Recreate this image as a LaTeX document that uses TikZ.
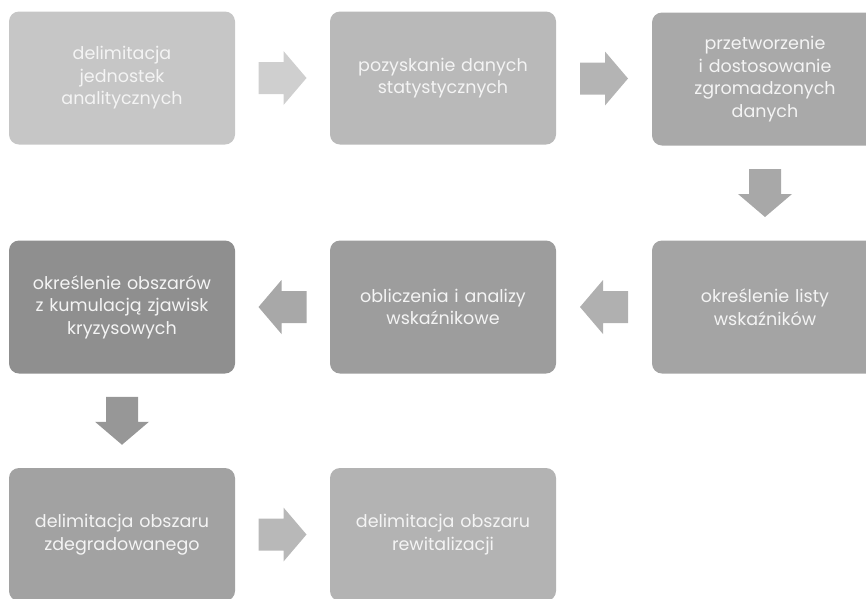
\documentclass[tikz,border=0pt]{standalone}
\usepackage{fontspec}
\setmainfont{Poppins}
\usetikzlibrary{calc}
\definecolor{cb1}{HTML}{C6C6C6}
\definecolor{cb2}{HTML}{B9B9B9}
\definecolor{cb3}{HTML}{A9A9A9}
\definecolor{cb4}{HTML}{8F8F8F}
\definecolor{cb5}{HTML}{9D9D9D}
\definecolor{cb6}{HTML}{A4A4A4}
\definecolor{cb7}{HTML}{A2A2A2}
\definecolor{cb8}{HTML}{B3B3B3}
\definecolor{ca1}{HTML}{CFCFCF}
\definecolor{ca2}{HTML}{B4B4B4}
\definecolor{ca3}{HTML}{A8A8A8}
\definecolor{ca4}{HTML}{B0B0B0}
\definecolor{ca5}{HTML}{A8A8A8}
\definecolor{ca6}{HTML}{979797}
\definecolor{ca7}{HTML}{B8B8B8}
\definecolor{txt}{HTML}{F4F4F4}
\tikzset{
  stepbox/.style={rectangle, rounded corners=10pt, minimum width=226pt, minimum height=133pt,
    text width=222pt, align=center, text=txt, font=\fontsize{17.5}{22.5}\selectfont, inner sep=0pt},
  barrow/.pic={\path[pic actions] (-24pt,16pt) -- (1pt,16pt) -- (1pt,27pt) -- (24pt,0pt) -- (1pt,-27pt) -- (1pt,-16pt) -- (-24pt,-16pt) -- cycle;}
}
\begin{document}
\begin{tikzpicture}[x=1pt,y=-1pt]
\useasboundingbox (0,0) rectangle (866,598);
\node[stepbox, fill=cb1] (b1) at (122,78) {delimitacja\\jednostek\\analitycznych};
\node[stepbox, fill=cb2] (b2) at (443,78) {pozyskanie danych\\statystycznych};
\node[stepbox, fill=cb3] (b3) at (765,79) {przetworzenie\\i dostosowanie\\zgromadzonych\\danych};
\node[stepbox, fill=cb4] (b4) at (122,307) {określenie obszarów\\z kumulacją zjawisk\\kryzysowych};
\node[stepbox, fill=cb5] (b5) at (443,307) {obliczenia i analizy\\wskaźnikowe};
\node[stepbox, fill=cb6] (b6) at (765,307) {określenie listy\\wskaźników};
\node[stepbox, fill=cb7] (b7) at (122,534.5) {delimitacja obszaru\\zdegradowanego};
\node[stepbox, fill=cb8] (b8) at (443,534.5) {delimitacja obszaru\\rewitalizacji};
\pic[fill=ca1] at ($(b1.east)!0.5!(b2.west)$) {barrow};
\pic[fill=ca2] at ($(b2.east)!0.5!(b3.west)$) {barrow};
\pic[fill=ca3, rotate=-90] at ($(b3.south)!0.5!(b6.north)$) {barrow};
\pic[fill=ca4, rotate=180] at ($(b6.west)!0.5!(b5.east)$) {barrow};
\pic[fill=ca5, rotate=180] at ($(b5.west)!0.5!(b4.east)$) {barrow};
\pic[fill=ca6, rotate=-90] at ($(b4.south)!0.5!(b7.north)$) {barrow};
\pic[fill=ca7] at ($(b7.east)!0.5!(b8.west)$) {barrow};
\end{tikzpicture}
\end{document}
